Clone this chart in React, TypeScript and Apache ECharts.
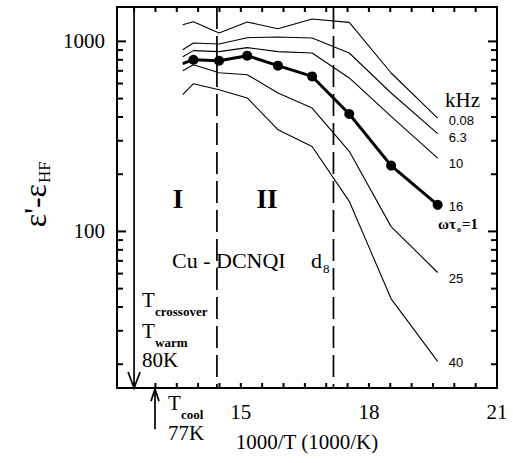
import React, { useEffect, useRef } from 'react';
import * as echarts from 'echarts';

// 1000/T positions of the measured temperatures
const xValues = [13.64, 13.89, 14.49, 15.15, 15.87, 16.67, 17.54, 18.52, 19.61];
// eps' - eps_HF for each frequency (kHz)
const f008 = [1224, 1270, 1107, 1265, 1166, 1312, 1259, 682, 395];
const f63 = [904, 981, 969, 1046, 1055, 1042, 869, 535, 327];
const f10 = [831, 894, 883, 927, 883, 869, 642, 403, 243];
const f16 = [763, 801, 791, 841, 745, 654, 415, 222, 138];
const f25 = [701, 754, 684, 668, 535, 446, 264, 106, 60.8];
const f40 = [524, 599, 557, 504, 343, 280, 144, 44.2, 20.7];
const freqLabels = ['0.08', '6.3', '10', '16', '25', '40'];

const xTickValues = [12.5, 13, 13.5, 14, 14.5, 15, 15.5, 16, 16.5, 17, 17.5, 18, 18.5, 19, 19.5, 20, 20.5, 21];
const xLabelValues = [15, 18, 21];
const yMajorTicks = [100, 1000];
const yMinorTicks = [20, 30, 40, 50, 60, 70, 80, 90, 200, 300, 400, 500, 600, 700, 800, 900];
const phaseBoundaries = [14.44, 17.17];
const tCrossover = 12.5; // 80 K
const tCool = 12.99; // 77 K

const X_MIN = 12.1;
const X_MAX = 21;
const Y_MIN = 15;
const Y_MAX = 1517;
const Y_MID = 150;

const SERIF = 'Liberation Serif';
const SANS = 'Liberation Sans';

function txt(text: string, x: number, y: number, size: number, extra: any = {}) {
  return {
    type: 'text',
    x,
    y,
    style: {
      text,
      fontSize: size,
      fontFamily: SERIF,
      fill: '#000',
      align: 'left',
      verticalAlign: 'middle',
      ...extra,
    },
  };
}

function seg(x1: number, y1: number, x2: number, y2: number) {
  return {
    type: 'line',
    silent: true,
    z: 100,
    shape: { x1, y1, x2, y2 },
    style: { stroke: '#000', lineWidth: 2 },
  };
}

export default function App() {
  const ref = useRef<HTMLDivElement>(null);
  useEffect(() => {
    if (!ref.current) return;
    const chart = echarts.init(ref.current, undefined, { renderer: 'svg' });

    const sets = [f008, f63, f10, f16, f25, f40];
    const labelOffsets = [2, 4, 5, 2, 6, 1];
    const lineSeries = sets.map((vals, si) => {
      const thick = si === 3;
      return {
        type: 'line',
        name: freqLabels[si] + ' kHz',
        data: xValues.map((x, i) =>
          thick && i === 0 ? { value: [x, vals[i]], symbol: 'none' } : [x, vals[i]]
        ),
        symbol: thick ? 'circle' : 'none',
        symbolSize: 10,
        showSymbol: thick,
        itemStyle: { color: '#000' },
        lineStyle: { color: '#000', width: thick ? 3 : 1.1 },
        z: thick ? 5 : 3,
        endLabel: {
          show: true,
          formatter: freqLabels[si],
          color: '#000',
          fontSize: 13,
          fontFamily: SANS,
          distance: 11,
          offset: [0, labelOffsets[si]],
        },
      };
    });

    const texts: any[] = [
      txt('I', 178, 199, 27, { fontWeight: 'bold', align: 'center' }),
      txt('II', 267, 199, 27, { fontWeight: 'bold', align: 'center' }),
      txt('Cu - DCNQI', 172, 260, 22),
      txt('d', 311, 260, 22),
      txt('8', 323, 268, 13),
      txt('T', 142, 300, 21),
      txt('crossover', 155, 311, 13, { fontWeight: 'bold' }),
      txt('T', 142, 331, 21),
      txt('warm', 155, 342, 13, { fontWeight: 'bold' }),
      txt('80K', 142, 360, 21),
      txt('T', 168, 403, 21),
      txt('cool', 181, 414, 13, { fontWeight: 'bold' }),
      txt('77K', 168, 433, 21),
      txt('kHz', 445, 100, 21),
      txt('ωτ', 438, 224, 15, { fontWeight: 'bold' }),
      txt('o', 457, 229, 8, { fontWeight: 'bold' }),
      txt('=1', 462, 224, 15, { fontWeight: 'bold' }),
      txt('1000/T (1000/K)', 307, 442, 21, { align: 'center' }),
      {
        type: 'group',
        x: 35,
        y: 184,
        rotation: Math.PI / 2,
        children: [
          txt("ε'-ε", 0, 0, 32, { align: 'right' }),
          txt('HF', 1, 9, 17),
        ],
      },
    ];

    const option: any = {
      animation: false,
      backgroundColor: '#fff',
      grid: { left: 117, right: 16, top: 7, bottom: 75 },
      xAxis: [
        {
          type: 'value',
          min: X_MIN,
          max: X_MAX,
          axisLine: { show: true, onZero: false, lineStyle: { color: '#000', width: 2 } },
          axisTick: { show: false },
          axisLabel: { customValues: xLabelValues, fontSize: 21, fontFamily: SERIF, color: '#000', margin: 13 },
          splitLine: { show: false },
        },
        {
          type: 'value',
          position: 'top',
          min: X_MIN,
          max: X_MAX,
          axisLine: { show: true, onZero: false, lineStyle: { color: '#000', width: 2 } },
          axisTick: { show: false },
          axisLabel: { show: false },
          splitLine: { show: false },
        },
      ],
      yAxis: [
        {
          type: 'log',
          logBase: 10,
          min: Y_MIN,
          max: Y_MAX,
          axisLine: { show: true, onZero: false, lineStyle: { color: '#000', width: 2 } },
          axisTick: { show: false },
          splitLine: { show: false },
          axisLabel: {
            fontSize: 21,
            fontFamily: SERIF,
            color: '#000',
            margin: 12,
            showMinLabel: false,
            showMaxLabel: false,
            formatter: (v: number) => {
              const l = Math.log10(v);
              return Math.abs(l - Math.round(l)) < 1e-6 ? String(Math.round(v)) : '';
            },
          },
        },
        {
          type: 'log',
          logBase: 10,
          position: 'right',
          min: Y_MIN,
          max: Y_MAX,
          axisLine: { show: true, onZero: false, lineStyle: { color: '#000', width: 2 } },
          axisTick: { show: false },
          axisLabel: { show: false },
          splitLine: { show: false },
        },
      ],
      series: [
        ...lineSeries,
        {
          type: 'custom',
          name: 'boundaries',
          data: phaseBoundaries.map((x) => [x, Y_MID]),
          encode: { x: 0, y: 1 },
          silent: true,
          renderItem: (params: any, api: any) => {
            const x = api.value(0);
            const p1 = api.coord([x, Y_MAX]);
            const p2 = api.coord([x, Y_MIN]);
            return {
              type: 'line',
              shape: { x1: p1[0], y1: p1[1], x2: p2[0], y2: p2[1] },
              style: { stroke: '#000', lineWidth: 1.7, lineDash: [22, 7] },
            };
          },
        },
        {
          type: 'custom',
          name: 'arrows',
          clip: false,
          data: [
            [tCrossover, Y_MAX, Y_MIN, 6, 16],
            [tCool, 9.1, 14.8, 4, 12],
          ],
          encode: { x: 0, y: 1 },
          silent: true,
          renderItem: (params: any, api: any) => {
            const x = api.value(0);
            const p1 = api.coord([x, api.value(1)]);
            const p2 = api.coord([x, api.value(2)]);
            const hw = api.value(3);
            const hh = api.value(4);
            const dir = p2[1] > p1[1] ? 1 : -1;
            return {
              type: 'group',
              children: [
                { type: 'line', shape: { x1: p1[0], y1: p1[1], x2: p2[0], y2: p2[1] }, style: { stroke: '#000', lineWidth: 1.7 } },
                {
                  type: 'polyline',
                  shape: { points: [[p2[0] - hw, p2[1] - dir * hh], [p2[0], p2[1]], [p2[0] + hw, p2[1] - dir * hh]] },
                  style: { stroke: '#000', lineWidth: 1.7, fill: 'none' },
                },
              ],
            };
          },
        },
      ],
      graphic: texts,
    };

    chart.setOption(option);

    // frame ticks: positions come from the chart's own axes (convertToPixel)
    const toPx = (x: number, y: number) =>
      chart.convertToPixel({ xAxisIndex: 0, yAxisIndex: 0 }, [x, y]) as number[];
    const tickEls: any[] = [];
    const yTicks = [
      ...yMajorTicks.map((v) => [v, 9]),
      ...yMinorTicks.map((v) => [v, 6]),
    ];
    yTicks.forEach(([v, len]) => {
      const l = toPx(X_MIN, v);
      const r = toPx(X_MAX, v);
      if (l && r) {
        tickEls.push(seg(l[0], l[1], l[0] + len, l[1]));
        tickEls.push(seg(r[0] - len, r[1], r[0], r[1]));
      }
    });
    xTickValues.forEach((v) => {
      const b = toPx(v, Y_MIN);
      const t = toPx(v, Y_MAX);
      if (b && t) {
        tickEls.push(seg(b[0], b[1], b[0], b[1] - 5));
        tickEls.push(seg(t[0], t[1], t[0], t[1] + 5));
      }
    });

    chart.setOption({ graphic: [...texts, ...tickEls] });

    return () => chart.dispose();
  }, []);

  return (
    <div
      ref={ref}
      style={{ position: 'fixed', left: 0, top: 0, width: 513, height: 463, background: '#fff' }}
    />
  );
}
